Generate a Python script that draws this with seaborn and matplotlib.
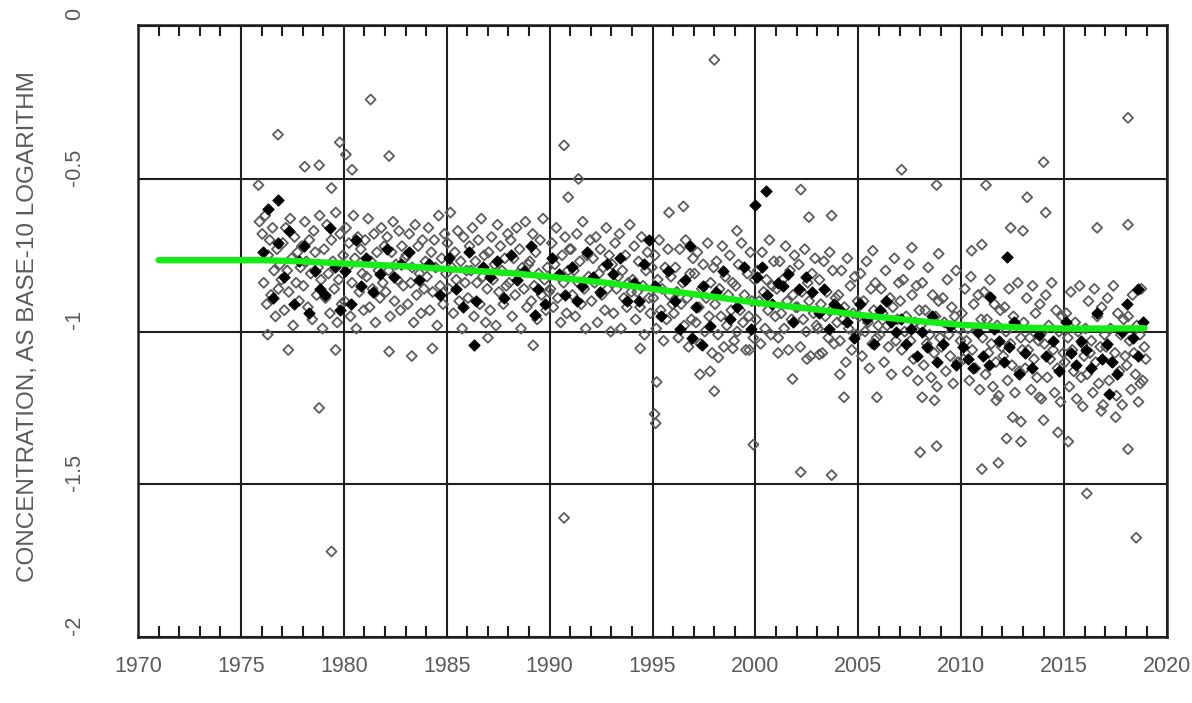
import matplotlib
matplotlib.use("Agg")
import matplotlib.pyplot as plt
import matplotlib.ticker as ticker
import matplotlib.transforms as mtransforms
import pandas as pd
import seaborn as sns

# log10 concentration samples, grouped by calendar year (1976 .. 2018)
first_year = 1976
open_by_year = [
    [-0.68, -0.84, -0.62, -0.91, -0.75, -0.70, -0.88, -0.66, -0.80, -0.95, -0.73, -0.86, -0.78, -0.83],
    [-0.71, -0.93, -0.66, -0.80, -0.87, -0.63, -0.76, -0.98, -0.69, -0.84, -0.74, -0.90, -0.79, -0.72],
    [-0.85, -0.64, -0.77, -0.92, -0.70, -0.81, -0.96, -0.67, -0.74, -0.88, -0.79, -0.62, -0.83, -0.99],
    [-0.73, -0.89, -0.65, -0.81, -0.94, -0.70, -0.77, -0.86, -0.61, -0.97, -0.83, -0.68, -0.91, -0.75],
    [-0.90, -0.66, -0.79, -0.71, -0.95, -0.84, -0.62, -0.76, -0.99, -0.69, -0.87, -0.73, -0.81, -0.93],
    [-0.70, -0.82, -0.63, -0.92, -0.77, -0.86, -0.68, -0.97, -0.74, -0.80, -0.89, -0.66, -0.84, -0.72],
    [-0.87, -0.69, -0.80, -0.95, -0.74, -0.64, -0.90, -0.78, -0.83, -0.67, -0.93, -0.72, -0.85, -0.76],
    [-0.75, -0.91, -0.68, -0.84, -0.79, -0.97, -0.65, -0.88, -0.72, -0.81, -0.94, -0.70, -0.86, -0.77],
    [-0.82, -0.66, -0.93, -0.74, -0.87, -0.70, -0.79, -0.98, -0.62, -0.85, -0.76, -0.91, -0.68, -0.81],
    [-0.71, -0.86, -0.61, -0.79, -0.94, -0.74, -0.83, -0.67, -0.90, -0.77, -0.99, -0.69, -0.84, -0.80],
    [-0.89, -0.72, -0.80, -0.66, -0.95, -0.77, -0.84, -0.70, -0.91, -0.63, -0.82, -0.75, -0.97, -0.86],
    [-0.74, -0.93, -0.69, -0.83, -0.78, -0.98, -0.65, -0.87, -0.72, -0.80, -0.91, -0.76, -0.85, -0.68],
    [-0.84, -0.70, -0.95, -0.76, -0.88, -0.66, -0.81, -0.73, -0.99, -0.79, -0.86, -0.64, -0.92, -0.78],
    [-0.77, -0.90, -0.68, -0.85, -0.74, -0.96, -0.81, -0.70, -0.88, -0.63, -0.83, -0.93, -0.79, -0.87],
    [-0.86, -0.71, -0.92, -0.78, -0.66, -0.89, -0.82, -0.97, -0.75, -0.84, -0.69, -0.94, -0.80, -0.73],
    [-0.73, -0.88, -0.80, -0.95, -0.68, -0.84, -0.77, -0.91, -0.64, -0.86, -0.99, -0.75, -0.82, -0.70],
    [-0.90, -0.76, -0.84, -0.69, -0.97, -0.81, -0.73, -0.88, -0.79, -0.93, -0.66, -0.86, -0.75, -1.00],
    [-0.78, -0.94, -0.71, -0.86, -0.82, -0.68, -0.99, -0.80, -0.89, -0.75, -0.92, -0.84, -0.65, -0.87],
    [-0.83, -0.72, -0.96, -0.87, -0.77, -0.92, -0.69, -0.85, -1.01, -0.80, -0.74, -0.89, -0.94, -0.79],
    [-0.89, -0.75, -0.99, -0.83, -0.70, -0.93, -0.86, -1.03, -0.79, -0.96, -0.73, -0.88, -0.82, -0.91],
    [-0.94, -0.79, -0.87, -1.02, -0.73, -0.91, -0.84, -0.98, -0.70, -0.89, -1.05, -0.81, -0.96, -0.76],
    [-0.81, -0.97, -0.74, -0.92, -1.04, -0.86, -0.78, -1.00, -0.89, -0.71, -0.95, -0.84, -1.07, -0.79],
    [-0.91, -0.77, -1.01, -0.86, -0.95, -0.72, -1.05, -0.82, -0.98, -0.88, -0.75, -0.93, -0.84, -1.03],
    [-0.85, -1.00, -0.78, -0.93, -0.71, -0.97, -0.88, -1.06, -0.81, -0.95, -0.74, -0.90, -1.02, -0.83],
    [-0.96, -0.80, -0.90, -1.04, -0.74, -0.87, -0.99, -0.83, -0.93, -0.70, -1.01, -0.85, -0.77, -0.95],
    [-0.86, -1.02, -0.77, -0.94, -0.83, -0.99, -0.72, -0.90, -1.06, -0.80, -0.96, -0.88, -0.75, -0.92],
    [-0.92, -0.78, -1.05, -0.87, -0.96, -0.73, -1.00, -0.84, -0.90, -1.08, -0.81, -0.94, -0.76, -0.98],
    [-0.99, -0.83, -0.91, -1.07, -0.77, -0.95, -0.87, -1.02, -0.74, -0.93, -0.80, -1.04, -0.89, -0.97],
    [-0.88, -1.03, -0.80, -0.96, -0.92, -1.10, -0.76, -0.99, -0.85, -1.06, -0.94, -0.82, -1.01, -0.90],
    [-0.95, -0.81, -1.08, -0.90, -1.00, -0.77, -0.97, -1.12, -0.86, -1.04, -0.93, -0.84, -1.02, -0.98],
    [-1.01, -0.86, -0.94, -1.10, -0.80, -0.98, -1.05, -0.89, -1.14, -0.92, -0.76, -1.03, -0.96, -0.84],
    [-0.90, -1.06, -0.83, -1.00, -0.95, -1.13, -0.78, -1.03, -0.88, -1.09, -0.97, -0.85, -1.16, -0.93],
    [-0.98, -0.84, -1.11, -0.93, -1.04, -0.79, -1.01, -1.15, -0.88, -1.07, -0.95, -1.18, -0.90, -1.02],
    [-1.05, -0.89, -0.97, -1.13, -0.83, -1.01, -1.08, -0.92, -1.17, -0.95, -0.80, -1.10, -0.99, -1.03],
    [-0.94, -1.09, -0.86, -1.03, -0.99, -1.16, -0.82, -1.06, -0.91, -1.12, -1.00, -0.88, -1.19, -0.96],
    [-1.02, -0.87, -1.14, -0.96, -1.07, -0.83, -1.04, -1.18, -0.91, -1.10, -0.98, -1.21, -0.93, -1.05],
    [-1.08, -0.92, -1.00, -1.16, -0.86, -1.04, -1.11, -0.95, -1.20, -0.98, -0.84, -1.13, -1.02, -1.06],
    [-0.97, -1.12, -0.89, -1.06, -1.02, -1.19, -0.85, -1.09, -0.94, -1.15, -1.03, -0.91, -1.22, -1.00],
    [-1.04, -0.88, -1.15, -0.98, -1.09, -0.84, -1.06, -1.20, -0.93, -1.12, -1.00, -1.23, -0.95, -1.07],
    [-1.10, -0.94, -1.02, -1.18, -0.87, -1.06, -1.13, -0.97, -1.22, -1.00, -0.85, -1.15, -1.04, -1.08],
    [-0.99, -1.14, -0.90, -1.07, -1.03, -1.20, -0.86, -1.10, -0.95, -1.17, -1.05, -0.92, -1.24, -1.01],
    [-1.05, -0.89, -1.16, -0.99, -1.10, -0.85, -1.07, -1.21, -0.94, -1.13, -1.01, -1.24, -0.96, -1.08],
    [-1.11, -0.95, -1.03, -1.19, -0.88, -1.07, -1.14, -0.98, -1.23, -1.01, -0.86, -1.16, -1.05, -1.09],
]
filled_by_year = [
    [-0.74, -0.60, -0.89, -0.71], [-0.82, -0.67, -0.91, -0.77], [-0.72, -0.94, -0.80, -0.86],
    [-0.88, -0.66, -0.79, -0.93], [-0.80, -0.91, -0.70, -0.85], [-0.76, -0.87, -0.81],
    [-0.73, -0.82, -0.78], [-0.74, -0.83], [-0.78, -0.88], [-0.76, -0.86, -0.92],
    [-0.74, -0.90, -0.79], [-0.82, -0.77, -0.89], [-0.75, -0.83, -0.80], [-0.72, -0.86, -0.91],
    [-0.76, -0.81, -0.88], [-0.79, -0.90, -0.85, -0.74], [-0.82, -0.87, -0.78], [-0.81, -0.76, -0.90],
    [-0.84, -0.90, -0.78, -0.70], [-0.85, -0.95, -0.80], [-0.90, -0.99, -0.83, -0.72],
    [-0.92, -0.85, -0.98], [-0.87, -0.80, -0.96], [-0.92, -0.79, -0.99], [-0.82, -0.79, -0.88, -0.91],
    [-0.84, -0.85, -0.81, -0.97], [-0.86, -0.82, -0.87], [-0.94, -0.86, -0.99, -0.91],
    [-0.93, -0.97, -1.02], [-0.91, -0.96, -1.04], [-0.93, -0.90, -0.97, -1.00],
    [-0.96, -1.04, -0.99, -1.08], [-1.00, -1.05, -0.95, -1.10], [-1.04, -0.98, -1.11],
    [-1.05, -1.09, -1.12, -1.00], [-1.08, -1.11, -0.99, -1.03], [-1.10, -1.05, -0.97, -1.14],
    [-1.07, -1.12, -1.01], [-1.08, -1.03, -1.13], [-0.97, -1.07, -1.11, -1.03],
    [-1.06, -1.12, -0.94, -1.09], [-1.04, -1.10, -1.14, -1.00], [-0.91, -1.02, -1.08, -0.97],
]

# scattered high / low samples away from the main band
outlier_date = [1975.85, 1975.9, 1976.3, 1976.8, 1976.8, 1977.3, 1978.1, 1978.8, 1978.8, 1979.4,
                1979.4, 1979.6, 1979.8, 1980.1, 1980.4, 1981.3, 1982.2, 1982.2, 1983.3, 1984.3,
                1986.3, 1987.0, 1989.2, 1989.3, 1990.7, 1990.7, 1990.9, 1991.4, 1994.4, 1995.2,
                1995.1, 1995.15, 1995.8, 1996.5, 1996.9, 1997.3, 1997.4, 1997.8, 1998.0, 1998.0,
                1998.2, 1998.9, 1999.1, 1999.7, 1999.9, 2000.0, 2000.5, 2001.1, 2001.8, 2002.2,
                2002.2, 2002.5, 2002.6, 2003.1, 2003.7, 2003.7, 2004.1, 2004.3, 2005.7, 2005.9,
                2007.1, 2007.6, 2008.0, 2008.1, 2008.7, 2008.8, 2008.8, 2008.9, 2010.5, 2011.0,
                2011.0, 2011.2, 2011.4, 2011.7, 2011.8, 2012.2, 2012.2, 2012.4, 2012.5, 2012.9,
                2012.9, 2013.0, 2013.2, 2013.8, 2014.0, 2014.0, 2014.1, 2014.7, 2015.2, 2015.9,
                2016.1, 2016.6, 2016.8, 2017.2, 2017.5, 2018.1, 2018.1, 2018.1, 2018.5, 2018.6,
                2018.7]
outlier_conc = [-0.52, -0.64, -1.01, -0.355, -0.57, -1.06, -0.46, -0.455, -1.25, -0.53,
                -1.72, -1.06, -0.38, -0.42, -0.47, -0.24, -0.425, -1.065, -1.08, -1.055,
                -1.045, -1.02, -1.045, -0.945, -0.39, -1.61, -0.56, -0.50, -1.055, -1.165,
                -1.27, -1.30, -0.61, -0.59, -1.02, -1.14, -1.045, -1.13, -0.11, -1.195,
                -1.085, -1.055, -0.67, -1.06, -1.37, -0.585, -0.54, -1.07, -1.155, -0.535,
                -1.46, -1.09, -0.625, -1.075, -0.62, -1.47, -1.14, -1.215, -0.735, -1.215,
                -0.47, -0.725, -1.395, -1.215, -1.225, -0.52, -1.375, -0.745, -0.735, -0.715,
                -1.45, -0.52, -0.885, -1.225, -1.43, -1.35, -0.755, -0.66, -1.28, -1.36,
                -1.295, -0.67, -0.56, -1.215, -0.445, -1.29, -0.61, -1.33, -1.36, -1.245,
                -1.53, -0.66, -1.26, -1.205, -1.28, -0.30, -0.65, -1.385, -1.675, -0.86,
                -1.17]
outlier_filled = [0, 0, 0, 0, 1, 0, 0, 0, 0, 0,
                  0, 0, 0, 0, 0, 0, 0, 0, 0, 0,
                  1, 0, 0, 1, 0, 0, 0, 0, 0, 0,
                  0, 0, 0, 0, 1, 0, 1, 0, 0, 0,
                  0, 0, 0, 0, 0, 1, 1, 0, 0, 0,
                  0, 0, 0, 0, 0, 0, 0, 0, 0, 0,
                  0, 0, 0, 0, 0, 0, 0, 0, 0, 0,
                  0, 0, 1, 0, 0, 0, 1, 0, 0, 0,
                  0, 0, 0, 0, 0, 0, 0, 0, 0, 0,
                  0, 0, 0, 1, 0, 0, 0, 0, 0, 1,
                  0]

# smoothed trend (green)
trend_date = [1971, 1973, 1976, 1978, 1980, 1983, 1985, 1988, 1990, 1993, 1995,
              1998, 2000, 2003, 2005, 2008, 2010, 2013, 2015, 2017, 2018.9]
trend_conc = [-0.766, -0.766, -0.766, -0.770, -0.777, -0.786, -0.795, -0.808, -0.820, -0.842, -0.860,
              -0.886, -0.905, -0.928, -0.945, -0.966, -0.978, -0.987, -0.990, -0.990, -0.989]

y_ticks = [0, -0.5, -1, -1.5, -2]
y_tick_labels = ["0", "-0.5", "-1", "-1.5", "-2"]

rows = []
for i, vals in enumerate(open_by_year):
    for j, v in enumerate(vals):
        rows.append((first_year + i + (j + 0.5) / len(vals), v, "open"))
for i, vals in enumerate(filled_by_year):
    for j, v in enumerate(vals):
        rows.append((first_year + i + (j + 0.3) / len(vals), v, "filled"))
for d, v, f in zip(outlier_date, outlier_conc, outlier_filled):
    rows.append((d, v, "filled" if f else "open"))
df = pd.DataFrame(rows, columns=["date", "conc", "kind"])
trend = pd.DataFrame({"date": trend_date, "conc": trend_conc})

sns.set_theme(style="white")
plt.rcParams['font.family'] = ['Liberation Sans', 'DejaVu Sans']

fig = plt.figure(figsize=(11.92, 7.03), dpi=100)
ax = fig.add_axes([0.1158, 0.0939, 0.8633, 0.8705])

sns.scatterplot(data=df[df.kind == "open"], x="date", y="conc", marker="D", s=26,
                facecolor="none", edgecolor="#5c5c5c", linewidth=1.3, ax=ax, zorder=3)
sns.scatterplot(data=df[df.kind == "filled"], x="date", y="conc", marker="D", s=32,
                color="black", edgecolor="black", linewidth=0.8, ax=ax, zorder=4)
sns.lineplot(data=trend, x="date", y="conc", color="#16ec16", linewidth=4.6, ax=ax, zorder=5)

ax.set_xlim(1970, 2020)
ax.set_ylim(-2.0, 0.004)
ax.xaxis.set_major_locator(ticker.MultipleLocator(5))
ax.xaxis.set_minor_locator(ticker.MultipleLocator(1))
ax.set_yticks(y_ticks)
ax.set_yticklabels(y_tick_labels)

ax.grid(True, which="major", color="#1e1e1e", linewidth=1.5)
ax.set_axisbelow(True)
for sp in ax.spines.values():
    sp.set_color("#1e1e1e")
    sp.set_linewidth(1.8)

ax.tick_params(axis="x", which="major", length=0, pad=14, labelsize=15.5, labelcolor="#5a5a5a")
ax.tick_params(axis="x", which="minor", direction="in", length=8, width=1.5, color="#1e1e1e",
               top=True, bottom=True)
ax.tick_params(axis="y", which="major", length=0, pad=38, labelsize=15.5, labelcolor="#5a5a5a",
               labelrotation=90)
shift = mtransforms.ScaledTranslation(0, 12 / 100, fig.dpi_scale_trans)
for lab in ax.get_yticklabels():
    lab.set_verticalalignment("center")
    lab.set_transform(lab.get_transform() + shift)

ax.set_xlabel("")
ax.set_ylabel("CONCENTRATION, AS BASE-10 LOGARITHM", fontsize=17.5, color="#5a5a5a")
ax.yaxis.label.set_verticalalignment("center")
ax.yaxis.set_label_coords(-0.107, 0.507)

fig.savefig("out.png", dpi=100)
